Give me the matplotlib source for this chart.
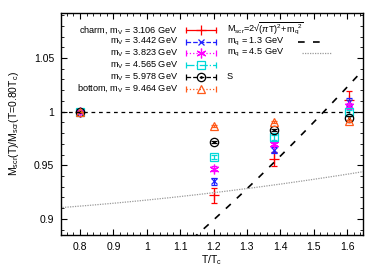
import numpy as np
import matplotlib
matplotlib.use('Agg')
import matplotlib.pyplot as plt
from matplotlib.ticker import MultipleLocator

plt.rcParams['font.family'] = ['Liberation Sans', 'DejaVu Sans']
plt.rcParams['mathtext.fontset'] = 'custom'
plt.rcParams['mathtext.rm'] = 'Liberation Sans'
plt.rcParams['mathtext.it'] = 'Liberation Sans:italic'

# data
t_over_tc = [0.8, 1.2, 1.38, 1.605]
labels = ['charm, m$_\\mathrm{V}$ = 3.106 GeV', 'm$_\\mathrm{V}$ = 3.442 GeV',
          'm$_\\mathrm{V}$ = 3.823 GeV', 'm$_\\mathrm{V}$ = 4.565 GeV',
          'm$_\\mathrm{V}$ = 5.978 GeV', 'bottom, m$_\\mathrm{V}$ = 9.464 GeV']
ratio_3106 = [1.0, 0.922, 0.956, 1.011]
err_3106 = [0.0, 0.007, 0.0065, 0.008]
ratio_3442 = [1.0, 0.935, 0.9645, 1.009]
err_3442 = [0.0, 0.003, 0.003, 0.004]
ratio_3823 = [1.0, 0.947, 0.970, 1.0055]
err_3823 = [0.0, 0.002, 0.002, 0.003]
ratio_4565 = [1.0, 0.958, 0.976, 0.9995]
err_4565 = [0.0, 0.002, 0.002, 0.002]
ratio_5978 = [1.0, 0.972, 0.983, 0.994]
err_5978 = [0.0, 0.001, 0.001, 0.002]
ratio_9464 = [1.0, 0.9865, 0.990, 0.991]
err_9464 = [0.0, 0.001, 0.001, 0.001]

# free-quark screening mass curves
tc = 0.269
mq_values = [1.3, 4.5]
mq_norms = [3.668, 9.98]

fig = plt.figure(figsize=(3.81, 2.67), dpi=100)
ax = fig.add_axes([61/381, 1-235/267, 302/381, 222/267])

series = [
    (ratio_3106, err_3106, '#ff0000', '+', '-', 7),
    (ratio_3442, err_3442, '#2020ff', 'x', '--', 5),
    (ratio_3823, err_3823, '#ff00ff', (6, 2, 0), ':', 7),
    (ratio_4565, err_4565, '#00d8d8', 's', '-.', 6),
    (ratio_5978, err_5978, '#000000', 'o', '--', 6),
    (ratio_9464, err_9464, '#ff5a1a', '^', ':', 6),
]

for vals, errs, col, mk, ls, ms in series:
    ax.errorbar(t_over_tc, vals, yerr=errs, fmt='none', ecolor=col,
                elinewidth=0.9, capsize=2.5, capthick=0.9)
    filled = mk in ('+', 'x') or isinstance(mk, tuple)
    ax.plot(t_over_tc, vals, linestyle='none', marker=mk, ms=ms,
            mec=col, mfc=col if filled else 'none', mew=0.9)
    if mk == 'o':
        ax.plot(t_over_tc, vals, linestyle='none', marker='.', ms=2, color=col)

t = np.linspace(0.74, 1.66, 200)
for mq, norm, ls, col in zip(mq_values, mq_norms, [(0, (4, 5)), (0, (1, 1))], ['k', '#999999']):
    m = 2 * np.sqrt((np.pi * t * tc) ** 2 + mq ** 2) / norm
    ax.plot(t, m, color=col, linestyle=ls, lw=1.2 if mq < 2 else 0.9)

ax.axhline(1.0, color='k', lw=0.9, linestyle=(0, (3, 3)))

ax.set_xlim(0.743, 1.648)
ax.set_ylim(0.885, 1.092)
ax.xaxis.set_minor_locator(MultipleLocator(0.02))
ax.yaxis.set_minor_locator(MultipleLocator(0.01))
ax.set_xticks([0.8, 0.9, 1.0, 1.1, 1.2, 1.3, 1.4, 1.5, 1.6])
ax.set_xticklabels(['0.8', '0.9', '1', '1.1', '1.2', '1.3', '1.4', '1.5', '1.6'])
ax.set_yticks([0.9, 0.95, 1.0, 1.05])
ax.set_yticklabels(['0.9', '0.95', '1', '1.05'])
ax.tick_params(which='both', direction='in', top=True, right=True, labelsize=7.5)
ax.tick_params(which='major', length=4, width=0.8, pad=5)
ax.tick_params(which='minor', length=2, width=0.6)
for sp in ax.spines.values():
    sp.set_linewidth(1.0)

ax.set_xlabel('T/T$_\\mathrm{c}$', fontsize=7.5, labelpad=1)
ax.set_ylabel('M$_\\mathrm{scr}$(T)/M$_\\mathrm{scr}$(T=0.80T$_\\mathrm{c}$)', fontsize=7.5, labelpad=9)

# key, gnuplot style
def ax_xy(px, py):
    return (px - 61) / 302, (235 - py) / 222

key_fs = 6.6
row_y = [30 + 11.7 * i for i in range(6)]
tr = ax.transAxes
for (vals, errs, col, mk, ls, ms), lab, py in zip(series, labels, row_y):
    x0, y0 = ax_xy(178, py)
    ax.text(x0, y0, lab, transform=tr, ha='right', va='center', fontsize=key_fs)
    xa, _ = ax_xy(186, py)
    xb, _ = ax_xy(216, py)
    xm, _ = ax_xy(201, py)
    ax.plot([xa, xb], [y0, y0], transform=tr, color=col, lw=0.9, linestyle=ls)
    ax.plot([xa, xb], [y0, y0], transform=tr, color=col, linestyle='none',
            marker='|', ms=5, mew=0.9)
    filled = mk in ('+', 'x') or isinstance(mk, tuple)
    ax.plot([xm], [y0], transform=tr, linestyle='none', marker=mk, ms=ms,
            mec=col, mfc=col if filled else 'none', mew=0.9)
    if mk == 'o':
        ax.plot([xm], [y0], transform=tr, linestyle='none', marker='.', ms=2, color=col)

x2, _ = ax_xy(227, 0)
ax.text(x2, ax_xy(0, row_y[0] - 1.5)[1],
        'M$_\\mathrm{scr}$=2√$\\overline{(\\pi\\mathrm{T})^2\\!+\\!\\mathrm{m_q}^2}$',
        transform=tr, ha='left', va='center', fontsize=key_fs)
ax.text(x2, ax_xy(0, row_y[1])[1], 'm$_\\mathrm{q}$ = 1.3 GeV', transform=tr,
        ha='left', va='center', fontsize=key_fs)
ax.text(x2, ax_xy(0, row_y[2])[1], 'm$_\\mathrm{q}$ = 4.5 GeV', transform=tr,
        ha='left', va='center', fontsize=key_fs)
ax.text(x2, ax_xy(0, row_y[4])[1], 'S', transform=tr, ha='left', va='center', fontsize=key_fs)
xa, _ = ax_xy(298, 0)
xb, _ = ax_xy(326, 0)
yy = ax_xy(0, row_y[1])[1]
ax.plot([xa, xb], [yy, yy], transform=tr, color='k', lw=1.2, linestyle=(0, (4, 5)))
xa, _ = ax_xy(302, 0)
xb, _ = ax_xy(332, 0)
yy = ax_xy(0, row_y[2])[1]
ax.plot([xa, xb], [yy, yy], transform=tr, color='#999999', lw=0.9, linestyle=(0, (1, 1)))

fig.savefig('out.png', dpi=100)
